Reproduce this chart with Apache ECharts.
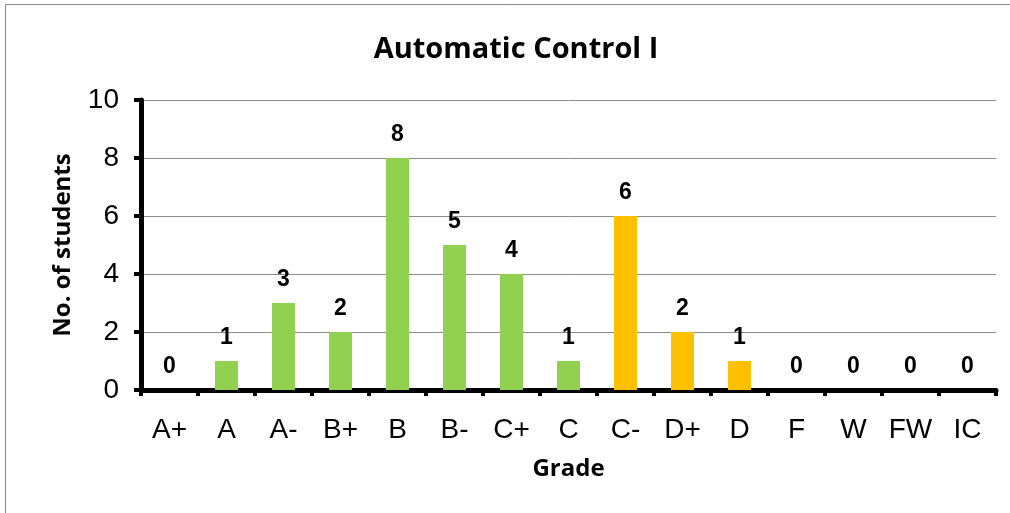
<!DOCTYPE html>
<html>
<head>
<meta charset="utf-8">
<script src="https://cdn.jsdelivr.net/npm/echarts@6/dist/echarts.min.js"></script>
<style>
html, body { margin: 0; padding: 0; background: #fff; }
#chart { width: 1010px; height: 513px; }
</style>
</head>
<body>
<div id="chart"></div>
<script>
var grades = ['A+', 'A', 'A-', 'B+', 'B', 'B-', 'C+', 'C', 'C-', 'D+', 'D', 'F', 'W', 'FW', 'IC'];
var students = [0, 1, 3, 2, 8, 5, 4, 1, 6, 2, 1, 0, 0, 0, 0];
var barColors = ['#92D050', '#92D050', '#92D050', '#92D050', '#92D050', '#92D050', '#92D050', '#92D050',
	'#FFC000', '#FFC000', '#FFC000', '#FFC000', '#FFC000', '#FFC000', '#FFC000'];

var chart = echarts.init(document.getElementById('chart'));
var option = {
	animation: false,
	title: {
		text: 'Automatic Control I',
		left: 511,
		textAlign: 'center',
		top: 30,
		textStyle: {
			fontFamily: 'Open Sans',
			fontWeight: 'bold',
			fontSize: 29,
			color: '#000'
		}
	},
	graphic: [{
		type: 'rect',
		shape: { x: 5.5, y: 4.5, width: 1100, height: 600 },
		style: { fill: 'none', stroke: '#888', lineWidth: 1 }
	}],
	grid: {
		left: 141,
		right: 14,
		top: 100,
		bottom: 123
	},
	xAxis: {
		type: 'category',
		data: grades,
		name: 'Grade',
		nameLocation: 'middle',
		nameGap: 67,
		nameTextStyle: { fontFamily: 'Open Sans', fontWeight: 'bold', fontSize: 24, color: '#000' },
		axisLine: { lineStyle: { color: '#000', width: 5 } },
		axisTick: { show: true, length: 6, lineStyle: { color: '#000', width: 4 } },
		axisLabel: { fontFamily: 'Liberation Sans', fontSize: 28, color: '#000', margin: 26 }
	},
	yAxis: {
		type: 'value',
		min: 0,
		max: 10,
		interval: 2,
		name: 'No. of students',
		nameLocation: 'middle',
		nameGap: 66,
		nameTextStyle: { fontFamily: 'Open Sans', fontWeight: 'bold', fontSize: 24, color: '#000' },
		axisLine: { show: true, lineStyle: { color: '#000', width: 5 } },
		axisTick: { show: true, length: 7, lineStyle: { color: '#000', width: 4 } },
		axisLabel: { fontFamily: 'Liberation Sans', fontSize: 28, color: '#000', margin: 22 },
		splitLine: { lineStyle: { color: '#8c8c8c', width: 1 } }
	},
	series: [{
		type: 'bar',
		barWidth: 23,
		data: students.map(function (v, i) {
			return { value: v, itemStyle: { color: barColors[i] } };
		}),
		label: {
			show: true,
			position: 'top',
			distance: 12,
			fontFamily: 'Liberation Sans',
			fontWeight: 'bold',
			fontSize: 23,
			color: '#000'
		}
	}]
};
chart.setOption(option);
</script>
</body>
</html>
